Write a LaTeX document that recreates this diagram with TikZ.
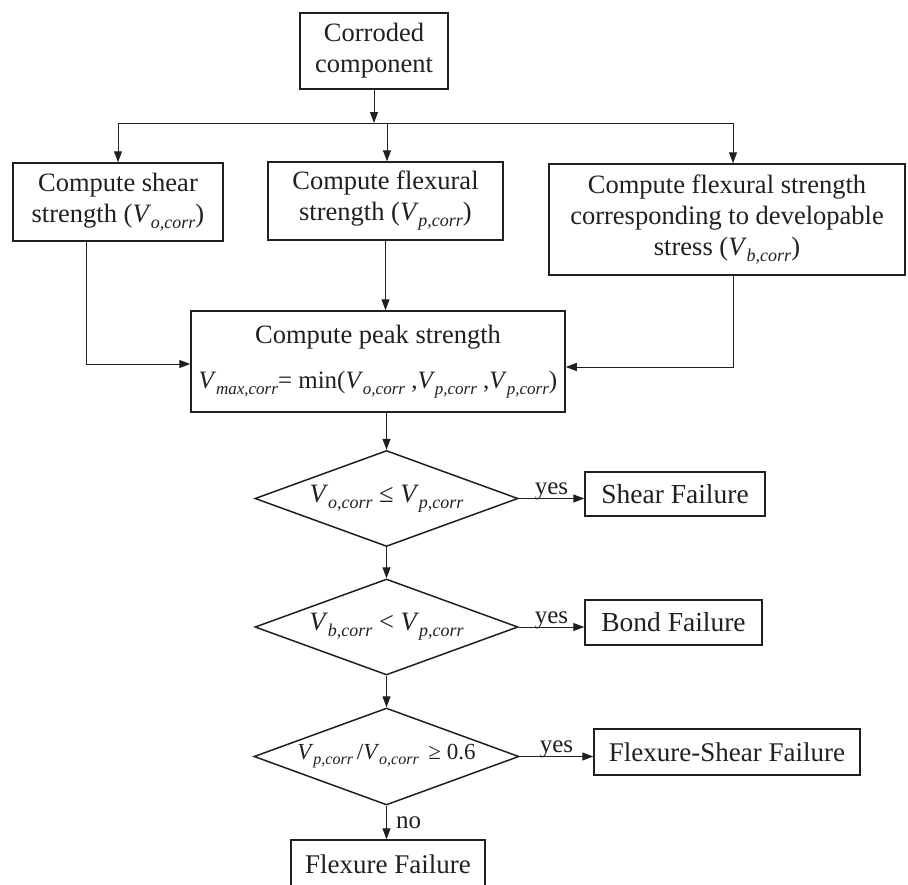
\documentclass[tikz,border=0pt]{standalone}
\usepackage{fontspec}
\setmainfont{Liberation Serif}
\usetikzlibrary{shapes.geometric,arrows.meta}
\definecolor{ink}{RGB}{35,31,32}
\newcommand\Vs[1]{\textit{V}\kern-0.3pt\raisebox{-6pt}{\fontsize{18}{18}\selectfont\textit{#1}}}
\newcommand\Vf[1]{\textit{V}\kern-0.3pt\raisebox{-6pt}{\fontsize{17}{17}\selectfont\textit{#1}}}
\newcommand\Vg[1]{\textit{V}\kern-0.3pt\raisebox{-5pt}{\fontsize{16}{16}\selectfont\textit{#1}}}
\begin{document}
\begin{tikzpicture}[x=1pt,y=-1pt,
  every node/.style={font=\fontsize{26.5}{31}\selectfont, text=ink},
  box/.style={draw=ink, line width=1.5pt, rectangle, inner sep=0pt, align=center},
  dia/.style={draw=ink, line width=1.5pt, diamond, inner sep=0pt, aspect=2.74, minimum width=263pt, minimum height=96pt},
  conn/.style={draw=ink, line width=1pt},
  arr/.style={conn, -{Triangle[length=11pt,width=8pt]}},
  lab/.style={font=\fontsize{25}{30}\selectfont, inner sep=1pt}
]
\useasboundingbox (0,0) rectangle (908,884);
\clip (0,0) rectangle (908,884);
\fill[white] (0,0) rectangle (908,884);

\coordinate (bus) at (0,123);
\coordinate (lx) at (86,0);
\coordinate (mx) at (387,0);
\coordinate (rx) at (733,0);

\node[box, minimum width=148pt, minimum height=76pt] (top) at (374,51) {Corroded\\component};
\node[box, minimum width=210pt, minimum height=78pt] (left) at (118,202) {Compute shear\\strength (\Vs{o,corr})};
\node[box, minimum width=235pt, minimum height=78pt] (mid) at (385.5,201) {Compute flexural\\strength (\Vs{p,corr})};
\node[box, minimum width=356pt, minimum height=111pt] (right) at (727,219.5) {Compute flexural strength\\corresponding to developable\\stress (\Vs{b,corr})};
\node[box, minimum width=374pt, minimum height=101pt] (peak) at (378,361.5) {Compute peak strength\\[14pt]{\fontsize{25}{30}\selectfont\Vf{max,corr}= min(\Vf{o,corr} ,\Vf{p,corr} ,\Vf{p,corr})}};

\node[dia] (d1) at (386.5,498.5) {\Vs{o,corr} ≤ \Vs{p,corr}};
\node[dia] (d2) at (386.5,627) {\Vs{b,corr} < \Vs{p,corr}};
\node[dia, minimum width=265pt, minimum height=97pt] (d3) at (386.5,756.5) {\fontsize{23}{28}\selectfont\Vg{p,corr}\,/\Vg{o,corr}\, ≥ 0.6};

\node[box, minimum width=180pt, minimum height=44pt, font=\fontsize{27.5}{31}\selectfont] (shear) at (675,494) {Shear Failure};
\node[box, minimum width=177pt, minimum height=45pt, font=\fontsize{27.5}{31}\selectfont] (bond) at (673.5,622.5) {Bond Failure};
\node[box, minimum width=266pt, minimum height=46pt, font=\fontsize{27}{31}\selectfont] (fs) at (727,752) {Flexure-Shear Failure};
\node[box, minimum width=194pt, minimum height=48pt, font=\fontsize{27}{31}\selectfont] (ff) at (388,864) {Flexure Failure};

\draw[conn] (left.north |- bus) -- (rx |- bus);
\draw[arr] (top.south) -- (top.south |- bus);
\draw[arr] (left.north |- bus) -- (left.north);
\draw[arr] (mx |- bus) -- (mx |- mid.north);
\draw[arr] (rx |- bus) -- (rx |- right.north);

\draw[arr] (lx |- left.south) |- ([yshift=-2.5pt]peak.west);
\draw[arr] (mid.south) -- (mid.south |- peak.north);
\draw[arr] (rx |- right.south) |- ([yshift=-5.5pt]peak.east);

\draw[arr] (d1.north |- peak.south) -- (d1.north);
\draw[arr] (d1.south) -- (d2.north);
\draw[arr] (d2.south) -- (d3.north);
\draw[arr] (d3.south) -- (d3.south |- ff.north) node[lab, midway, right, xshift=8pt] {no};

\draw[arr] (d1.east) -- (d1.east -| shear.west) node[lab, midway, anchor=base, yshift=4pt] {yes};
\draw[arr] (d2.east) -- (d2.east -| bond.west) node[lab, midway, anchor=base, yshift=4pt] {yes};
\draw[arr] (d3.east) -- (d3.east -| fs.west) node[lab, midway, anchor=base, yshift=4pt] {yes};
\end{tikzpicture}
\end{document}
